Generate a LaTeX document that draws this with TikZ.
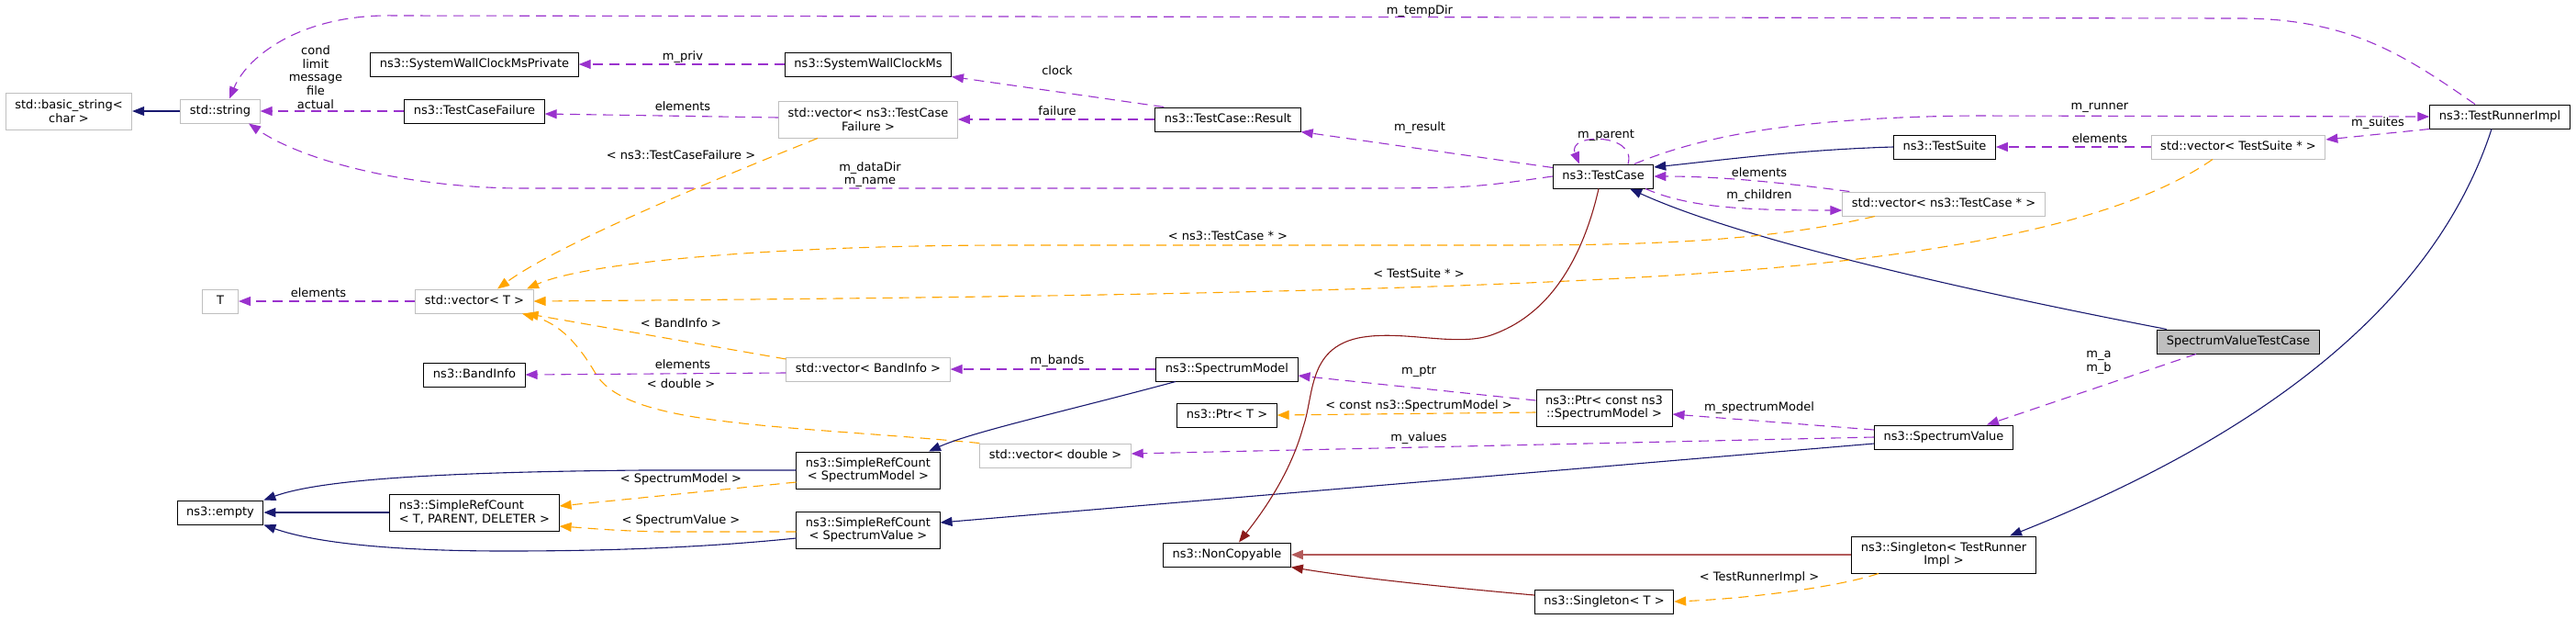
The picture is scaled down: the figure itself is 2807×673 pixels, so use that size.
\documentclass[tikz,border=0pt]{standalone}
\usepackage{fontspec}
\setmainfont{DejaVu Sans}
\usepackage{tikz}
\usetikzlibrary{arrows.meta}
\definecolor{doxuse}{HTML}{9A32CD}
\definecolor{doxinh}{HTML}{191970}
\definecolor{doxtpl}{HTML}{FFA500}
\definecolor{doxpriv}{HTML}{8B1A1A}
\definecolor{doxprivlt}{HTML}{B35A5A}
\definecolor{doxgrey}{HTML}{BFBFBF}

\begin{document}
\begin{tikzpicture}[
  x=1pt, y=-1pt,
  font=\fontsize{13}{14.7}\selectfont,
  >={Triangle[length=13pt,width=10pt]},
  doc/.style={draw=black, line width=1pt, inner xsep=10pt, inner ysep=3pt, align=center},
  undoc/.style={doc, draw=doxgrey},
  one/.style={minimum height=26pt, text height=9.9pt, text depth=3.1pt},
  two/.style={minimum height=40pt},
  lbl/.style={inner sep=0pt, text height=9.9pt, text depth=3.1pt},
  lblm/.style={inner sep=0pt, align=center},
  member/.style={->, doxuse, line width=1.1pt, dash pattern=on 11pt off 7pt},
  tpl/.style={->, doxtpl, line width=1.1pt, dash pattern=on 11pt off 7pt},
  inh/.style={->, doxinh, line width=1.1pt},
  priv/.style={->, doxpriv, line width=1.1pt},
]
  \useasboundingbox (0,0) rectangle (2807,673);

  \node[undoc, two] (bstr) at (75,121) {std::basic\_string<\\char >};
  \node[undoc, one] (str) at (240,121) {std::string};
  \node[doc, one] (swcp) at (517,70) {ns3::SystemWallClockMsPrivate};
  \node[doc, one] (tcf) at (517,121) {ns3::TestCaseFailure};
  \node[doc, one] (swc) at (946,70) {ns3::SystemWallClockMs};
  \node[undoc, two] (vtcf) at (946,130) {std::vector< ns3::TestCase\\Failure >};
  \node[doc, one] (res) at (1338,130) {ns3::TestCase::Result};
  \node[doc, one] (tc) at (1747,192) {ns3::TestCase};
  \node[doc, one] (ts) at (2119,160) {ns3::TestSuite};
  \node[undoc, one] (vtc) at (2118,222) {std::vector< ns3::TestCase * >};
  \node[doc, one] (tri) at (2724,127) {ns3::TestRunnerImpl};
  \node[undoc, one] (vts) at (2439,160) {std::vector< TestSuite * >};
  \node[doc, one, fill=doxgrey] (svtc) at (2439,372) {SpectrumValueTestCase};
  \node[undoc, one, minimum width=39pt] (tt) at (240,328) {T};
  \node[undoc, one] (vt) at (517,328) {std::vector< T >};
  \node[doc, one] (band) at (517,408) {ns3::BandInfo};
  \node[undoc, one] (vband) at (946,402) {std::vector< BandInfo >};
  \node[doc, one] (sm) at (1337,402) {ns3::SpectrumModel};
  \node[doc, one] (ptrt) at (1337,452) {ns3::Ptr< T >};
  \node[doc, two] (ptrsm) at (1748,444) {ns3::Ptr< const ns3\\::SpectrumModel >};
  \node[undoc, one] (vdbl) at (1150,496) {std::vector< double >};
  \node[doc, one] (sv) at (2118,476) {ns3::SpectrumValue};
  \node[doc, one] (empty) at (240,558) {ns3::empty};
  \node[doc, two, align=left] (srctpd) at (517,558) {ns3::SimpleRefCount\\< T, PARENT, DELETER >};
  \node[doc, two] (srcsm) at (946,512) {ns3::SimpleRefCount\\< SpectrumModel >};
  \node[doc, two] (srcsv) at (946,577) {ns3::SimpleRefCount\\< SpectrumValue >};
  \node[doc, one] (noncopy) at (1337,604) {ns3::NonCopyable};
  \node[doc, two] (sgltri) at (2118,604) {ns3::Singleton< TestRunner\\Impl >};
  \node[doc, one] (sglt) at (1748,655) {ns3::Singleton< T >};

  \draw[inh] (str) -- (bstr);
  \draw[member] (tcf) -- (str);
  \draw[member] ([xshift=-27pt]tri.north) .. controls (2620,60) and (2560,20) .. (2440,20) -- (430,17) .. controls (330,15) and (270,60) .. ([xshift=10pt]str.north);
  \draw[member] (tc.west) .. controls (1600,205) .. (1450,205) -- (560,205) .. controls (440,203) and (330,175) .. ([xshift=31pt]str.south);
  \draw[member] (swc) -- (swcp);
  \draw[member] ([yshift=2pt]vtcf.west) -- ([yshift=-3pt]tcf.east);
  \draw[member] ([xshift=10pt]res.north west) -- (swc.south east);
  \draw[member] (res) -- (vtcf);
  \draw[member] ([yshift=-4pt]tc.north west) -- (res.south east);
  \draw[member] ([xshift=27pt]tc.north) .. controls +(10,-34) and +(-14,-34) .. ([xshift=-26pt]tc.north);
  \draw[member] ([xshift=34pt]tc.north) .. controls (1850,150) and (1950,128) .. (2150,126) -- (tri.west);
  \draw[inh] (ts.west) .. controls (1960,163) and (1870,175) .. ([yshift=10pt]tc.east);
  \draw[member] ([xshift=8pt]vtc.north west) .. controls (1950,200) and (1880,192) .. (tc.east);
  \draw[member] ([xshift=46pt]tc.south) .. controls (1840,226) and (1900,229) .. ([yshift=-7pt]vtc.west);
  \draw[inh] ([xshift=-78pt]svtc.north) .. controls (2150,318) and (1900,262) .. ([xshift=29pt]tc.south);
  \draw[member] (vts) -- (ts);
  \draw[member] (tri.south west) -- ([yshift=8pt]vts.east);
  \draw[inh] ([xshift=-9pt]tri.south) .. controls (2660,310) and (2500,460) .. ([xshift=72pt]sgltri.north);
  \draw[tpl] ([xshift=-55pt]vtcf.south) .. controls (780,195) and (610,265) .. ([xshift=25pt]vt.north);
  \draw[tpl] ([xshift=-75pt]vtc.south) .. controls (1930,262) and (1800,267) .. (1650,267) -- (1100,267) .. controls (850,267) and (640,285) .. ([xshift=57pt]vt.north);
  \draw[tpl] ([xshift=-28pt]vts.south) .. controls (2330,230) and (2180,268) .. (1950,290) .. controls (1650,318) and (1100,324) .. (vt.east);
  \draw[member] (vt) -- (tt);
  \draw[tpl] ([yshift=11pt]vband.west) -- ([xshift=-8pt]vt.south east);
  \draw[tpl] (vdbl.north west) .. controls (850,462) and (680,465) .. (648,405) .. controls (630,375) and (610,352) .. ([xshift=52pt]vt.south);
  \draw[member] ([yshift=-4pt]vband.west) -- (band.east);
  \draw[member] (sm) -- (vband);
  \draw[inh] ([xshift=-56pt]sm.south) .. controls (1160,448) and (1060,470) .. ([xshift=66pt]srcsm.north);
  \draw[member] ([yshift=8pt]ptrsm.west) -- ([yshift=-7pt]sm.east);
  \draw[tpl] ([yshift=-5pt]ptrsm.west) -- (ptrt.east);
  \draw[member] ([yshift=8pt]sv.west) -- ([yshift=-7pt]ptrsm.east);
  \draw[member] (sv.west) -- ([yshift=2pt]vdbl.east);
  \draw[inh] ([yshift=-7pt]sv.west) -- ([yshift=8pt]srcsv.east);
  \draw[member] ([xshift=-46pt]svtc.south) -- ([xshift=47pt]sv.north);
  \draw[inh] (srcsm.west) -- (700,512) .. controls (480,514) and (350,522) .. (empty.north east);
  \draw[tpl] ([yshift=-13pt]srcsm.west) -- ([yshift=7pt]srctpd.east);
  \draw[inh] (srctpd) -- (empty);
  \draw[tpl] ([yshift=-2pt]srcsv.west) -- (720,579) .. controls (670,578) and (640,575) .. ([yshift=-15pt]srctpd.east);
  \draw[inh] ([yshift=-9pt]srcsv.west) .. controls (760,597) and (650,600) .. (551,600) .. controls (420,600) and (340,590) .. (empty.south east);
  \draw[priv] ([xshift=-5pt]tc.south) .. controls (1725,280) and (1690,340) .. (1630,363) .. controls (1590,380) and (1530,358) .. (1480,368) .. controls (1425,380) and (1432,430) .. (1420,465) .. controls (1405,520) and (1370,565) .. ([xshift=13pt]noncopy.north);
  \draw[priv, doxprivlt, line width=1.8pt] (sgltri) -- (noncopy);
  \draw[priv] ([yshift=7pt]sglt.west) .. controls (1560,638) and (1470,628) .. (noncopy.south east);
  \draw[tpl] ([xshift=-71pt]sgltri.south) .. controls (2000,640) and (1900,652) .. (sglt.east);

  \node[lblm] (lcond) at (344,84) {cond\\limit\\message\\file\\actual};
  \node[lbl] (ltemp) at (1547,12) {m\_tempDir};
  \node[lbl] (lpriv) at (744,62) {m\_priv};
  \node[lbl] (lelem1) at (744,117) {elements};
  \node[lbl] (lclock) at (1152,78) {clock};
  \node[lbl] (lfail) at (1152,122) {failure};
  \node[lblm] (ldata) at (948,190) {m\_dataDir\\m\_name};
  \node[lbl] (ltcf) at (742,170) {< ns3::TestCaseFailure >};
  \node[lbl] (ltcp) at (1338,258) {< ns3::TestCase * >};
  \node[lbl] (lres) at (1547,139) {m\_result};
  \node[lbl] (lpar) at (1750,147) {m\_parent};
  \node[lbl] (lelem2) at (1917,189) {elements};
  \node[lbl] (lchild) at (1917,213) {m\_children};
  \node[lbl] (ltsp) at (1546,299) {< TestSuite * >};
  \node[lbl] (lrun) at (2288,116) {m\_runner};
  \node[lbl] (lsuites) at (2591,134) {m\_suites};
  \node[lbl] (lelem3) at (2288,152) {elements};
  \node[lbl] (lelem4) at (347,320) {elements};
  \node[lbl] (lband) at (742,353) {< BandInfo >};
  \node[lbl] (ldbl) at (742,419) {< double >};
  \node[lbl] (lelem5) at (744,398) {elements};
  \node[lbl] (lbands) at (1152,393) {m\_bands};
  \node[lbl] (lptr) at (1546,404) {m\_ptr};
  \node[lbl] (lcsm) at (1546,442) {< const ns3::SpectrumModel >};
  \node[lbl] (lspm) at (1917,444) {m\_spectrumModel};
  \node[lbl] (lval) at (1546,477) {m\_values};
  \node[lblm] (lab) at (2287,395) {m\_a\\m\_b};
  \node[lbl] (lsm) at (742,522) {< SpectrumModel >};
  \node[lbl] (lsv) at (742,567) {< SpectrumValue >};
  \node[lbl] (ltri) at (1917,629) {< TestRunnerImpl >};
\end{tikzpicture}
\end{document}
